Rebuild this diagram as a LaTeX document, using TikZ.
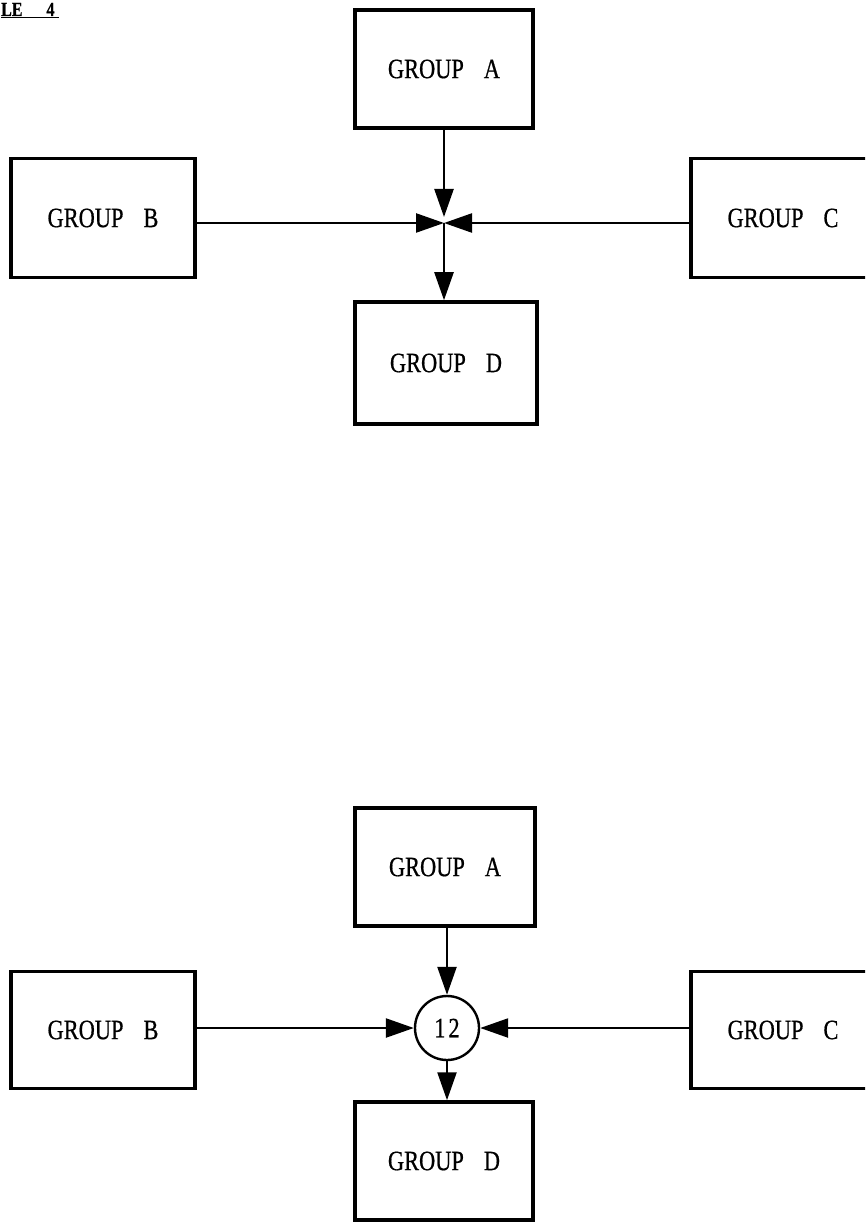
\documentclass[tikz,border=0pt]{standalone}
\usepackage{fontspec}
\setmainfont[FakeStretch=0.8,FakeBold=0.6]{Liberation Serif}
\usetikzlibrary{arrows, arrows.meta, positioning}

\begin{document}
\begin{tikzpicture}[x=1pt,y=-1pt]

\tikzset{group/.style = {shape=rectangle,draw,line width=3.5pt,minimum width=180pt,minimum height=118pt,font=\fontsize{28}{32}\selectfont}}
\tikzset{edge/.style = {-{Triangle[length=28pt,width=19pt]},line width=2.4pt}}
\tikzset{joint/.style = {shape=circle,draw,line width=2.4pt,minimum size=64pt,inner sep=0pt,font=\fontsize{28}{32}\selectfont}}
\useasboundingbox (0,0) rectangle (865,1222);
\clip (0,0) rectangle (865,1222);

% title
\node[anchor=base west, inner sep=0pt, font=\fontsize{20}{22}\selectfont\bfseries] (title) at (1,16) {\underline{LE\hspace{24pt}4\hspace{4pt}}};

% top vertices
\node[group, minimum width=178pt] (a1) at (444,69) {GROUP\hspace{20pt}A};
\node[group, minimum width=184pt, minimum height=119pt] (b1) at (103,218) {GROUP\hspace{20pt}B};
\node[group, minimum width=184pt, minimum height=119pt] (c1) at (783,218) {GROUP\hspace{20pt}C};
\node[group, minimum width=182pt, minimum height=122pt] (d1) at (446,363) {GROUP\hspace{20pt}D};
\coordinate (j1) at (444,223);
%edges
\draw [edge, shorten >=6pt] (a1.south -| j1) -- (j1);
\draw [edge] (b1.east |- j1) -- (j1);
\draw [edge] (c1.west |- j1) -- (j1);
\draw [edge] (j1) -- (d1.north -| j1);

% bottom vertices
\node[group, minimum width=180pt] (a2) at (445,867) {GROUP\hspace{20pt}A};
\node[group, minimum width=184pt, minimum height=117pt] (b2) at (103,1030) {GROUP\hspace{20pt}B};
\node[group, minimum width=184pt, minimum height=117pt] (c2) at (783,1030) {GROUP\hspace{20pt}C};
\node[group, minimum width=178pt, minimum height=118pt] (d2) at (444,1161) {GROUP\hspace{20pt}D};
\node[joint] (j2) at (447,1028) {1\hspace{3pt}2};
%edges
\draw [edge] (a2.south -| j2) -- (j2.north);
\draw [edge] (b2.east |- j2) -- (j2.west);
\draw [edge] (c2.west |- j2) -- (j2.east);
\draw [edge] (j2.south) -- (d2.north -| j2);
\end{tikzpicture}
\end{document}
